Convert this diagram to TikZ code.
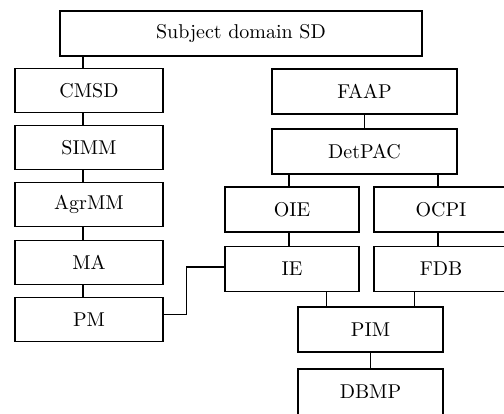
\documentclass[tikz,border=0pt]{standalone}
\usepackage{fontspec}
\setmainfont{lmroman10-regular}[Extension=.otf]
\usepackage{tikz}
\usetikzlibrary{positioning,calc}

\begin{document}
\begin{tikzpicture}[x=1pt,y=-1pt,
      font=\fontsize{20}{24}\selectfont,
      box/.style={draw=black,line width=1.3pt,fill=white,inner sep=0pt,
                  minimum width=148pt,minimum height=44pt},
      wide/.style={box,minimum width=185pt,minimum height=45pt},
      mid/.style={box,minimum width=134pt,minimum height=45pt},
      ln/.style={line width=1.3pt,color=black}]
      \clip (0,0) rectangle (504,414);
      \node[box,minimum width=362pt,minimum height=45pt] (sd) at (241,33.5) {Subject domain SD};
      % left column
      \node[box] (cmsd) at (89,90.5) {CMSD};
      \node[box] (simm) at (89,147.5) {SIMM};
      \node[box] (agrmm) at (89,204.5) {AgrMM};
      \node[box] (ma) at (89,262.5) {MA};
      \node[box] (pm) at (89,319.5) {PM};
      % right part
      \node[wide] (faap) at (364.5,91.5) {FAAP};
      \node[wide] (detpac) at (364.5,151.5) {DetPAC};
      \node[mid] (oie) at (292,209.5) {OIE};
      \node[mid] (ocpi) at (441,209.5) {OCPI};
      \node[mid] (ie) at (292,269) {IE};
      \node[mid] (fdb) at (441,269) {FDB};
      \node[box,minimum width=145pt,minimum height=45pt] (pim) at (370.5,329.5) {PIM};
      \node[box,minimum width=145pt,minimum height=46pt] (dbmp) at (370.5,392) {DBMP};
      \coordinate (lx) at (83,0);
      \draw[ln] (sd.south -| lx) -- (cmsd.north -| lx);
      \draw[ln] (cmsd.south -| lx) -- (simm.north -| lx);
      \draw[ln] (simm.south -| lx) -- (agrmm.north -| lx);
      \draw[ln] (agrmm.south -| lx) -- (ma.north -| lx);
      \draw[ln] (ma.south -| lx) -- (pm.north -| lx);
      \draw[ln] (faap) -- (detpac);
      \draw[ln] (detpac.south -| oie.north) ++(-3,0) -- ([xshift=-3pt]oie.north);
      \draw[ln] (detpac.south -| ocpi.north) ++(-3,0) -- ([xshift=-3pt]ocpi.north);
      \draw[ln] ([xshift=-3pt]oie.south) -- ([xshift=-3pt]ie.north);
      \draw[ln] ([xshift=-3pt]ocpi.south) -- ([xshift=-3pt]fdb.north);
      \draw[ln] (ie.south -| {$(pim.north west)!0.2!(pim.north east)$}) -- ($(pim.north west)!0.2!(pim.north east)$);
      \draw[ln] (fdb.south -| {$(pim.north west)!0.8!(pim.north east)$}) -- ($(pim.north west)!0.8!(pim.north east)$);
      \draw[ln] (pim) -- (dbmp);
      \draw[ln] ([yshift=5pt]pm.east) -- ++(23,0) |- ([yshift=2pt]ie.west);
    \end{tikzpicture}
\end{document}
